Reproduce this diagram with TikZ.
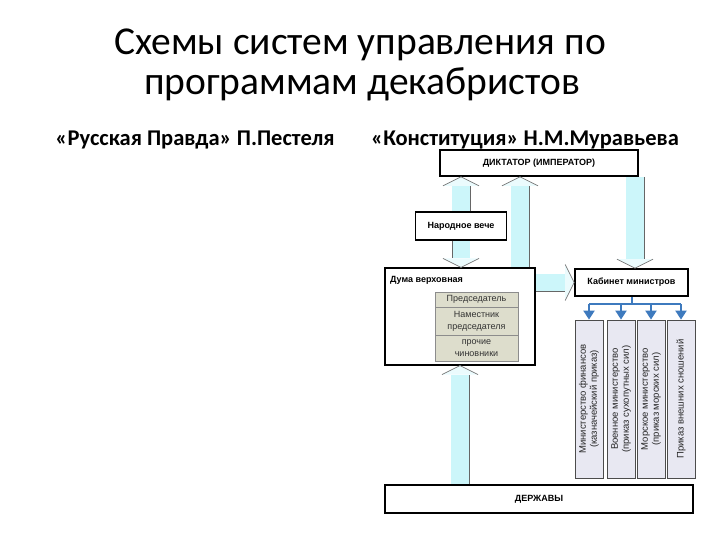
\documentclass[tikz,border=0pt]{standalone}
\usepackage{fontspec}
\setmainfont{Carlito}
\newfontfamily\diagfont{Liberation Sans}
\usetikzlibrary{calc,arrows.meta}

\definecolor{shaftcyan}{RGB}{204,246,250}
\definecolor{tablefill}{RGB}{221,221,204}
\definecolor{minfill}{RGB}{232,232,242}
\definecolor{busblue}{RGB}{62,122,190}

% block arrow from tail (#2) to tip (#3), dark edge on side #1
\newcommand{\blockarr}[3][-90]{%
  \coordinate (hb) at ($(#3)!9pt!(#2)$);
  \fill[shaftcyan] ($(#2)!9pt!90:(#3)$) -- ($(hb)!9pt!90:(#3)$) -- ($(hb)!9pt!-90:(#3)$) -- ($(#2)!9pt!-90:(#3)$) -- cycle;
  \draw[black!60, line width=0.8pt] ($(#2)!9pt!#1:(#3)$) -- ($(hb)!9pt!#1:(#3)$);
  \filldraw[fill=shaftcyan!40, draw=black!55, line width=0.7pt] ($(hb)!18pt!90:(#3)$) -- (#3) -- ($(hb)!18pt!-90:(#3)$);
}

\begin{document}
\begin{tikzpicture}[
    x=1pt, y=1pt,
    title/.style={anchor=base, font=\fontsize{39.5}{44}\selectfont},
    subtitle/.style={anchor=base, font=\bfseries\fontsize{22.5}{26}\selectfont},
    box/.style={
        draw=black,
        line width=1.6pt,
        fill=white,
        inner sep=0pt,
        align=center,
        font=\diagfont\bfseries\fontsize{9}{11}\selectfont
    },
    row/.style={draw=black!45, line width=0.6pt, fill=tablefill, inner sep=0pt,
        minimum width=83pt, align=center,
        font=\diagfont\fontsize{9}{12}\selectfont, text=black!80},
    ministry/.style={draw=black!70, line width=0.8pt, fill=minfill, inner sep=0pt,
        rotate=90, minimum width=158pt, minimum height=28pt, align=center,
        font=\diagfont\fontsize{9.5}{11}\selectfont, text=black!85},
    bus/.style={busblue, line width=2pt},
    busarr/.style={bus, -{Triangle[width=11pt,length=9pt]}}
]
    \useasboundingbox (0,0) rectangle (720,-540);

    % headings
    \node[title] (t1) at (360,-55) {Схемы систем управления по};
    \node[title] (t2) at (362,-95) {программам декабристов};
    \node[subtitle] (pestel) at (195,-146) {«Русская Правда» П.Пестеля};
    \node[subtitle] (murav) at (525,-146) {«Конституция» Н.М.Муравьева};

    % boxes
    \node[box, minimum width=198pt, minimum height=26pt] (dict) at (539,-163) {ДИКТАТОР (ИМПЕРАТОР)};
    \node[box, line width=1.2pt, minimum width=91pt, minimum height=28pt] (veche) at (461,-226) {Народное вече};
    \node[box, line width=1.2pt, minimum width=150pt, minimum height=97pt] (duma) at (460,-316.5) {};
    \node[box, draw=none, fill=none, anchor=north west] (dumalabel) at ([xshift=5pt,yshift=-8pt]duma.north west) {Дума верховная};
    \node[box, minimum width=113pt, minimum height=27pt] (kab) at (631.5,-282.5) {Кабинет министров};
    \node[box, minimum width=308pt, minimum height=28pt] (derzh) at (539,-499) {ДЕРЖАВЫ};

    % table inside the duma
    \node[row, minimum height=15pt] (row1) at (476.5,-299.5) {Председатель};
    \node[row, minimum height=28pt] (row2) at (476.5,-321) {Наместник\\председателя};
    \node[row, minimum height=26pt] (row3) at (476.5,-348) {прочие\\чиновники};

    % ministries
    \node[ministry] (min1) at (589,-399) {Министерство финансов\\(казначейский приказ)};
    \node[ministry] (min2) at (621,-399) {Военное министерство\\(приказ сухопутных сил)};
    \node[ministry] (min3) at (651,-399) {Морское министерство\\(приказ морских сил)};
    \node[ministry] (min4) at (681,-399) {Приказ внешних сношений};

    % block arrows
    \coordinate (a1) at (veche.north |- dict.south);
    \blockarr{veche.north}{a1}
    \coordinate (a2) at (veche.south |- duma.north);
    \blockarr{veche.south}{a2}
    \coordinate (d3) at ([xshift=60pt]duma.north);
    \coordinate (a3) at (d3 |- dict.south);
    \blockarr{d3}{a3}
    \coordinate (k4) at ([xshift=3.5pt]kab.north);
    \coordinate (a4) at (k4 |- dict.south);
    \blockarr[90]{a4}{k4}
    \coordinate (a5) at (duma.east |- kab.west);
    \blockarr{a5}{kab.west}
    \coordinate (a6) at (duma.south |- derzh.north);
    \blockarr{a6}{duma.south}

    % blue distribution from the cabinet
    \draw[bus] (kab.south) -- ++(0,-7) coordinate (busmid);
    \draw[bus] (min1.east |- busmid) -- (min4.east |- busmid);
    \foreach \i in {1,...,4}
        \draw[busarr] (min\i.east |- busmid) -- (min\i.east);
\end{tikzpicture}
\end{document}
